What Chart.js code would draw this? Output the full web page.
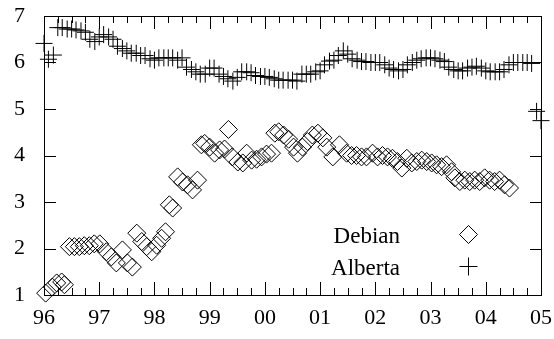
<!DOCTYPE html>
<html><head><meta charset="utf-8">
<script src="https://cdn.jsdelivr.net/npm/chart.js@4/dist/chart.umd.min.js"></script>
<style>html,body{margin:0;padding:0;background:#fff}#wrap{width:554px;height:339px;position:relative}#c{position:absolute;left:0;top:0}#ov{position:absolute;left:0;top:0;width:554px;height:339px;pointer-events:none}#ov div{position:absolute;background:#000}</style>
</head><body><div id="wrap"><canvas id="c" width="554" height="339"></canvas><div id="ov"></div></div>
<script>
const seriesNames = ['Debian', 'Alberta'];

const debianYears = [1996.03,1996.15,1996.23,1996.32,1996.37,1996.46,1996.55,1996.64,1996.73,1996.82,1996.91,1997.01,
 1997.13,1997.22,1997.31,1997.42,1997.51,1997.60,1997.68,1997.77,1997.86,1997.95,1998.04,1998.13,1998.20,1998.27,1998.33,
 1998.42,1998.51,1998.60,1998.69,1998.78,1998.85,1998.91,1999.00,1999.09,1999.18,1999.27,1999.34,1999.41,1999.51,1999.60,
 1999.67,1999.76,1999.85,1999.94,2000.03,2000.12,2000.18,2000.25,2000.34,2000.43,2000.52,2000.59,2000.68,2000.77,2000.86,
 2000.96,2001.05,2001.12,2001.23,2001.35,2001.48,2001.57,2001.66,2001.75,2001.84,2001.95,2002.04,2002.13,2002.22,2002.31,
 2002.40,2002.48,2002.57,2002.66,2002.75,2002.84,2002.93,2003.02,2003.11,2003.20,2003.29,2003.38,2003.44,2003.53,2003.62,
 2003.71,2003.80,2003.89,2003.98,2004.07,2004.16,2004.25,2004.34,2004.43];
const debianValues = [1.04,1.17,1.26,1.28,1.22,2.04,2.04,2.04,2.06,2.06,2.10,2.10,
 1.93,1.82,1.69,1.97,1.69,1.60,2.33,2.15,2.04,1.93,2.07,2.22,2.36,2.94,2.87,
 3.54,3.43,3.37,3.26,3.47,4.23,4.26,4.18,4.05,4.12,4.14,4.56,3.97,3.86,3.84,
 4.05,3.90,3.92,3.97,4.03,4.05,4.48,4.51,4.44,4.35,4.18,4.05,4.18,4.30,4.44,
 4.48,4.38,4.18,3.97,4.23,4.05,4.00,4.00,3.97,3.97,4.05,3.97,4.00,3.97,3.94,
 3.87,3.73,3.94,3.84,3.87,3.90,3.87,3.84,3.80,3.76,3.80,3.65,3.52,3.44,3.47,
 3.44,3.47,3.44,3.52,3.47,3.44,3.47,3.37,3.30];

const albertaYears = [1996.00,1996.08,1996.17,1996.25,1996.33,1996.42,1996.50,1996.58,1996.67,1996.75,1996.83,1996.92,
 1997.00,1997.08,1997.17,1997.25,1997.33,1997.42,1997.50,1997.58,1997.67,1997.75,1997.83,1997.92,
 1998.00,1998.08,1998.17,1998.25,1998.33,1998.42,1998.50,1998.58,1998.67,1998.75,1998.83,1998.92,
 1999.00,1999.08,1999.17,1999.25,1999.33,1999.42,1999.50,1999.58,1999.67,1999.75,1999.83,1999.92,
 2000.00,2000.08,2000.17,2000.25,2000.33,2000.42,2000.50,2000.58,2000.67,2000.75,2000.83,2000.92,
 2001.00,2001.08,2001.17,2001.25,2001.33,2001.42,2001.50,2001.58,2001.67,2001.75,2001.83,2001.92,
 2002.00,2002.08,2002.17,2002.25,2002.33,2002.42,2002.50,2002.58,2002.67,2002.75,2002.83,2002.92,
 2003.00,2003.08,2003.17,2003.25,2003.33,2003.42,2003.50,2003.58,2003.67,2003.75,2003.83,2003.92,
 2004.00,2004.08,2004.17,2004.25,2004.33,2004.42,2004.50,2004.58,2004.67,2004.75,2004.83,2004.92,2005.00];
const albertaValues = [6.41,6.07,6.16,6.75,6.75,6.72,6.72,6.70,6.68,6.65,6.50,6.45,
 6.55,6.60,6.55,6.50,6.35,6.30,6.25,6.20,6.20,6.15,6.15,6.08,
 6.05,6.10,6.10,6.10,6.10,6.05,6.10,5.90,5.85,5.80,5.75,5.75,
 5.88,5.88,5.75,5.70,5.65,5.60,5.68,5.80,5.80,5.78,5.72,5.70,
 5.70,5.68,5.65,5.62,5.62,5.62,5.62,5.60,5.75,5.75,5.75,5.80,
 5.82,5.95,6.03,6.05,6.15,6.25,6.18,6.08,6.05,6.02,6.02,6.00,
 6.00,6.00,5.95,5.88,5.85,5.82,5.85,5.95,6.00,6.05,6.08,6.10,
 6.10,6.08,6.05,6.02,5.90,5.85,5.82,5.82,5.88,5.90,5.92,5.88,
 5.82,5.80,5.80,5.80,5.85,5.95,6.00,6.00,6.00,6.00,5.98,4.95,4.75];

const xTickYears = [1996,1997,1998,1999,2000,2001,2002,2003,2004,2005];
const xTickLabels = ['96','97','98','99','00','01','02','03','04','05'];
const yTickValues = [1,2,3,4,5,6,7];

const FONT = '"Liberation Serif", "Times New Roman", serif';

// collects frame + tick segments from the chart's own scales
function frameSegments(chart) {
  const xs = chart.scales.x, ys = chart.scales.y;
  const ca = chart.chartArea;
  const L = Math.round(ca.left), R = Math.round(ca.right);
  const T = Math.round(ca.top), B = Math.round(ca.bottom);
  const segs = [[L, T, R - L + 1, 1], [L, B, R - L + 1, 1], [L, T, 1, B - T + 1], [R, T, 1, B - T + 1]];
  for (let i = 0; i < xTickYears.length; i++) {
    for (let q = 0; q < 4; q++) {
      if (q > 0 && i === xTickYears.length - 1) break;
      const px = Math.round(xs.getPixelForValue(xTickYears[i] + q / 4));
      const len = q === 0 ? 13 : 7;
      segs.push([px, B - len, 1, len]);
      segs.push([px, T, 1, len]);
    }
  }
  for (let j = 0; j < yTickValues.length; j++) {
    const py = Math.round(ys.getPixelForValue(yTickValues[j]));
    segs.push([L, py, 12, 1]);
    segs.push([R - 11, py, 12, 1]);
  }
  return segs;
}

function drawFrame(chart) {
  const ctx = chart.ctx;
  ctx.save();
  ctx.fillStyle = '#000';
  for (const s of frameSegments(chart)) ctx.fillRect(s[0], s[1], s[2], s[3]);
  ctx.restore();
}

function drawKey(chart) {
  const ctx = chart.ctx;
  ctx.save();
  ctx.fillStyle = '#000';
  ctx.strokeStyle = '#000';
  ctx.lineWidth = 1;
  ctx.font = '23px ' + FONT;
  ctx.textAlign = 'right';
  ctx.textBaseline = 'alphabetic';
  const rows = [[seriesNames[0], 243, 'diamond'], [seriesNames[1], 275, 'plus']];
  for (let k = 0; k < rows.length; k++) {
    const label = rows[k][0], y = rows[k][1], kind = rows[k][2];
    ctx.fillText(label, 400, y);
    const mx = 468.5, my = y - 8.5;
    ctx.beginPath();
    if (kind === 'diamond') {
      ctx.moveTo(mx - 9, my); ctx.lineTo(mx, my - 9); ctx.lineTo(mx + 9, my); ctx.lineTo(mx, my + 9); ctx.closePath();
    } else {
      ctx.moveTo(mx - 9, my); ctx.lineTo(mx + 9, my); ctx.moveTo(mx, my - 9); ctx.lineTo(mx, my + 9);
    }
    ctx.stroke();
  }
  ctx.restore();
}

// same frame/ticks also as a DOM overlay positioned from the chart's scales
function buildOverlay(chart) {
  const ov = document.getElementById('ov');
  ov.innerHTML = '';
  for (const s of frameSegments(chart)) {
    const d = document.createElement('div');
    d.style.left = s[0] + 'px'; d.style.top = s[1] + 'px';
    d.style.width = s[2] + 'px'; d.style.height = s[3] + 'px';
    ov.appendChild(d);
  }
}

const framePlugin = {
  id: 'frameTicks',
  beforeDatasetsDraw(chart) { drawFrame(chart); },
  afterDraw(chart) { drawFrame(chart); drawKey(chart); }
};

const zeroPad = s => { s.paddingTop = 0; s.paddingBottom = 0; s.paddingLeft = 0; s.paddingRight = 0; };

Chart.defaults.color = '#000';
Chart.defaults.font.family = FONT;

const chart = new Chart(document.getElementById('c'), {
  type: 'scatter',
  data: {
    datasets: [
      {
        label: seriesNames[0],
        data: debianYears.map((x, i) => ({ x, y: debianValues[i] })),
        pointStyle: 'rectRot', pointRadius: 9, pointBorderWidth: 1,
        borderColor: '#000', backgroundColor: 'rgba(0,0,0,0)', clip: false
      },
      {
        label: seriesNames[1],
        data: albertaYears.map((x, i) => ({ x, y: albertaValues[i] })),
        pointStyle: 'cross', pointRadius: 8.5, pointBorderWidth: 1,
        borderColor: '#000', backgroundColor: 'rgba(0,0,0,0)', clip: false
      }
    ]
  },
  options: {
    responsive: false,
    animation: false,
    devicePixelRatio: 1,
    layout: { padding: { top: 16, right: 13, left: 0, bottom: 0 } },
    plugins: { legend: { display: false }, tooltip: { enabled: false } },
    scales: {
      x: {
        type: 'linear', min: 1996, max: 2005,
        grid: { display: false, drawTicks: false },
        border: { display: false },
        afterBuildTicks: s => { s.ticks = xTickYears.map(v => ({ value: v })); },
        afterFit: s => { s.height = 44; zeroPad(s); },
        ticks: {
          padding: 10, maxRotation: 0, autoSkip: false,
          font: { size: 22, family: FONT }, color: '#000',
          callback: (v) => xTickLabels[xTickYears.indexOf(v)]
        }
      },
      y: {
        type: 'linear', min: 1, max: 7,
        grid: { display: false, drawTicks: false },
        border: { display: false },
        afterBuildTicks: s => { s.ticks = yTickValues.map(v => ({ value: v })); },
        afterFit: s => { s.width = 44; zeroPad(s); },
        ticks: { padding: 19, font: { size: 22, family: FONT }, color: '#000' }
      }
    }
  },
  plugins: [framePlugin]
});
buildOverlay(chart);
</script>
</body></html>
